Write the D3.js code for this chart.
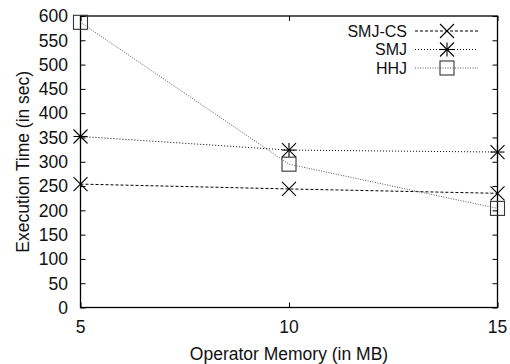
<!DOCTYPE html>
<html>
<head>
<meta charset="utf-8">
<script src="https://cdn.jsdelivr.net/npm/d3@7"></script>
<style>
  html, body { margin: 0; padding: 0; background: #fff; }
  svg { display: block; font-family: "Liberation Sans", Arial, sans-serif; }
</style>
</head>
<body>
<svg id="chart" width="510" height="364"></svg>
<script>
// Operator memory (MB) on the x axis
const memory = [5, 10, 15];
// Execution time (sec) per join algorithm
const smjCs = [254, 244, 235];
const smj = [352, 324, 320];
const hhj = [587, 295, 204];
const seriesNames = ["SMJ-CS", "SMJ", "HHJ"];
const yTicks = [0, 50, 100, 150, 200, 250, 300, 350, 400, 450, 500, 550, 600];
const xTicks = [5, 10, 15];

const svg = d3.select("#chart");
const L = 80.5, R = 497.5, T = 16, B = 307.5;

const x = d3.scaleLinear().domain([5, 15]).range([L, R]);
const y = d3.scaleLinear().domain([0, 600]).range([B, T]);

const series = [
  { name: seriesNames[0], values: smjCs, stroke: "#000", dash: "3,2", marker: "x", mcolor: "#000" },
  { name: seriesNames[1], values: smj, stroke: "#000", dash: "1,2", marker: "star", mcolor: "#000" },
  { name: seriesNames[2], values: hhj, stroke: "#555", dash: "1,1.5", marker: "box", mcolor: "#333" }
];

const fontSize = 17.5, legendFont = 16;
function label(px, py, str, anchor, rotated, size) {
  return svg.append("text")
    .attr("transform", `translate(${px},${py})` + (rotated ? " rotate(-90)" : ""))
    .attr("text-anchor", anchor)
    .attr("dy", "0.36em")
    .attr("fill", "#111")
    .style("font-size", (size || fontSize) + "px")
    .text(str);
}

// Axes with inward ticks on all four sides
const tickLen = 5;
const axL = svg.append("g").attr("transform", `translate(${L},0)`)
  .call(d3.axisLeft(y).tickValues(yTicks).tickSizeInner(-tickLen).tickSizeOuter(0).tickFormat(""));
const axR = svg.append("g").attr("transform", `translate(${R},0)`)
  .call(d3.axisRight(y).tickValues(yTicks).tickSizeInner(-tickLen).tickSizeOuter(0).tickFormat(""));
const axB = svg.append("g").attr("transform", `translate(0,${B})`)
  .call(d3.axisBottom(x).tickValues(xTicks).tickSizeInner(-tickLen).tickSizeOuter(0).tickFormat(""));
const axT = svg.append("g").attr("transform", `translate(0,${T})`)
  .call(d3.axisTop(x).tickValues(xTicks).tickSizeInner(-tickLen).tickSizeOuter(0).tickFormat(""));

[axL, axR, axB, axT].forEach(g => {
  g.select(".domain").remove();
  g.selectAll(".tick line").attr("stroke", "#000").attr("stroke-width", 1);
});

// Tick labels
yTicks.forEach(v => label(L - 12.5, y(v), String(v), "end", false));
xTicks.forEach(v => label(x(v), 327, String(v), "middle", false));

// Plot frame
svg.append("rect").attr("x", L).attr("y", T).attr("width", R - L).attr("height", B - T)
  .attr("fill", "none").attr("stroke", "#000").attr("stroke-width", 1.3);

// Axis titles, centred on the plot area
label((L + R) / 2, 353.5, "Operator Memory (in MB)", "middle", false);
label(23, (T + B) / 2, "Execution Time (in sec)", "middle", true);

function drawMarker(g, type, cx, cy, color) {
  const s = 7;
  if (type === "x" || type === "star") {
    g.append("line").attr("x1", cx - s).attr("y1", cy - s).attr("x2", cx + s).attr("y2", cy + s)
      .attr("stroke", color).attr("stroke-width", 1.1);
    g.append("line").attr("x1", cx - s).attr("y1", cy + s).attr("x2", cx + s).attr("y2", cy - s)
      .attr("stroke", color).attr("stroke-width", 1.1);
  }
  if (type === "star") {
    g.append("line").attr("x1", cx - s).attr("y1", cy).attr("x2", cx + s).attr("y2", cy)
      .attr("stroke", color).attr("stroke-width", 1.1);
    g.append("line").attr("x1", cx).attr("y1", cy - s).attr("x2", cx).attr("y2", cy + s)
      .attr("stroke", color).attr("stroke-width", 1.1);
  }
  if (type === "box") {
    g.append("rect").attr("x", cx - s).attr("y", cy - s).attr("width", 2 * s).attr("height", 2 * s)
      .attr("fill", "none").attr("stroke", color).attr("stroke-width", 1.1);
  }
}

const line = d3.line().x((d, i) => x(memory[i])).y(d => y(d));
series.forEach(s => {
  svg.append("path").datum(s.values).attr("d", line)
    .attr("fill", "none").attr("stroke", s.stroke).attr("stroke-width", 1)
    .attr("stroke-dasharray", s.dash);
  const g = svg.append("g");
  s.values.forEach((v, i) => drawMarker(g, s.marker, x(memory[i]), y(v), s.mcolor));
});

// Legend
const legX = 407, sampleX1 = 415, sampleX2 = 478, rowY0 = 31, rowH = 18.5;
series.forEach((s, i) => {
  const yy = rowY0 + i * rowH;
  label(legX, yy, s.name, "end", false, legendFont);
  svg.append("line").attr("x1", sampleX1).attr("x2", sampleX2).attr("y1", yy).attr("y2", yy)
    .attr("stroke", s.stroke).attr("stroke-width", 1).attr("stroke-dasharray", s.dash);
  drawMarker(svg.append("g"), s.marker, 447, yy, s.mcolor);
});
</script>
</body>
</html>
